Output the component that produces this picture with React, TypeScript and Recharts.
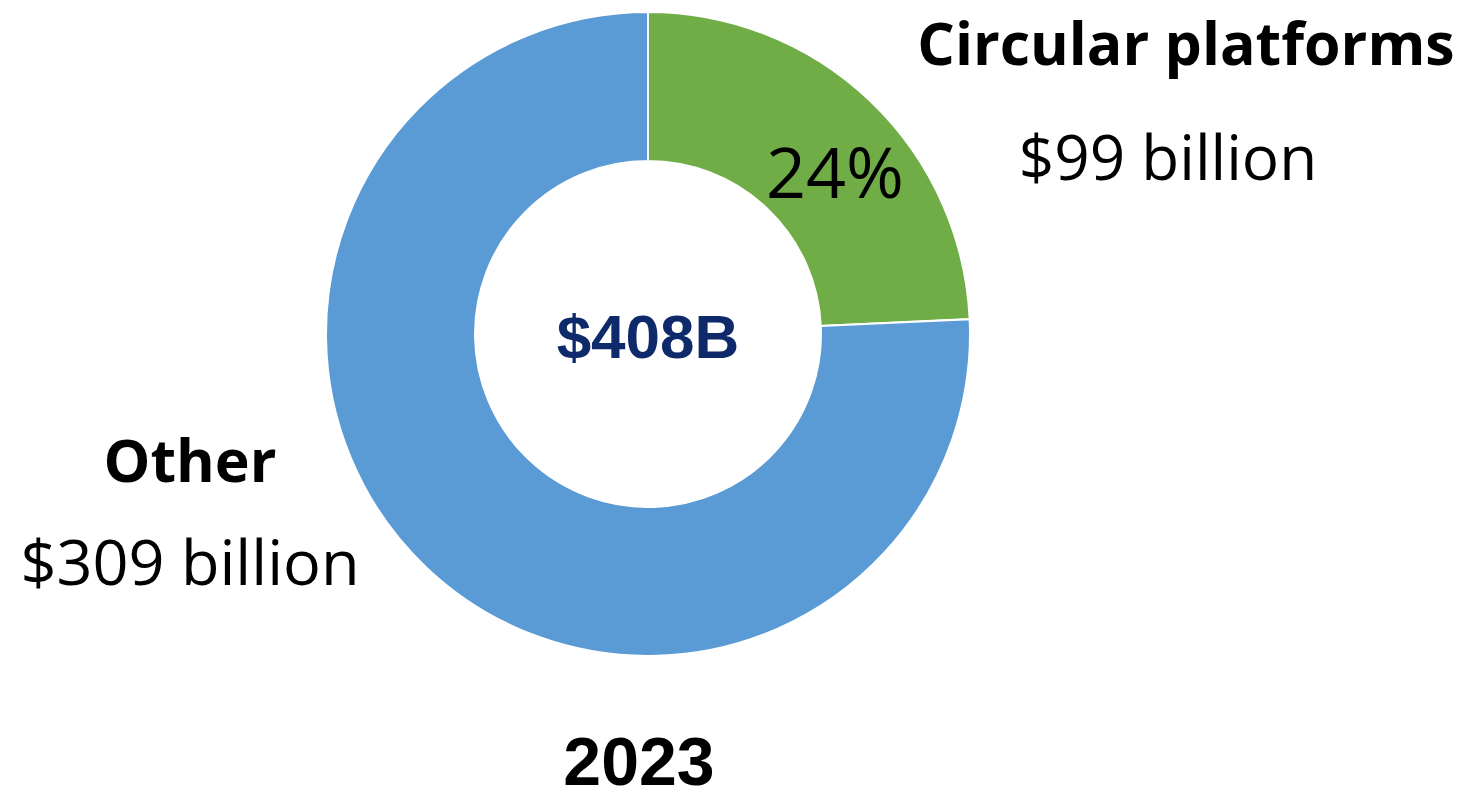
import { PieChart, Pie, Cell } from "recharts";

const segments = ["Circular platforms", "Other"];
const valuesBillion = [99, 309];
const colors = ["#70AD47", "#5B9BD5"];
const totalLabel = "$408B";
const yearLabel = "2023";

const data = segments.map((name, i) => ({ name, value: valuesBillion[i] }));
const total = valuesBillion.reduce((a, b) => a + b, 0);
const sharePct = Math.round((valuesBillion[0] / total) * 100);

const sans = "'Open Sans', 'Noto Sans', sans-serif";
const arial = "'Liberation Sans', Arial, sans-serif";

export default function App() {
  return (
    <div style={{ position: "absolute", left: 0, top: 0, width: 1468, height: 800, background: "#fff" }}>
      <PieChart width={1468} height={800} margin={{ top: 0, right: 0, bottom: 0, left: 0 }}>
        <Pie
          data={data}
          dataKey="value"
          cx={648}
          cy={334}
          innerRadius={173}
          outerRadius={322}
          startAngle={90}
          endAngle={-270}
          stroke="#ffffff"
          strokeWidth={2}
          isAnimationActive={false}
        >
          {data.map((d, i) => <Cell key={d.name} fill={colors[i]} />)}
        </Pie>
      </PieChart>
      <svg width={1468} height={800} style={{ position: "absolute", left: 0, top: 0, pointerEvents: "none" }}>
        <text x={648} y={358} textAnchor="middle" fontFamily={arial} fontWeight={700} fontSize={62} fill="#0E2A6B">
          {totalLabel}
        </text>
        <text x={1186} y={65} textAnchor="middle" fontFamily={sans} fontWeight={700} fontSize={59} fill="#000">
          {segments[0]}
        </text>
        <text x={1168} y={180} textAnchor="middle" fontFamily={sans} fontSize={62} fill="#000">
          ${valuesBillion[0]} billion
        </text>
        <text x={835} y={198} textAnchor="middle" fontFamily={sans} fontSize={70} fill="#000">
          {sharePct}%
        </text>
        <text x={190} y={482} textAnchor="middle" fontFamily={sans} fontWeight={700} fontSize={59} fill="#000">
          {segments[1]}
        </text>
        <text x={190} y={585} textAnchor="middle" fontFamily={sans} fontSize={63} fill="#000">
          ${valuesBillion[1]} billion
        </text>
        <text x={639} y={785} textAnchor="middle" fontFamily={arial} fontWeight={700} fontSize={68} fill="#000">
          {yearLabel}
        </text>
      </svg>
    </div>
  );
}
